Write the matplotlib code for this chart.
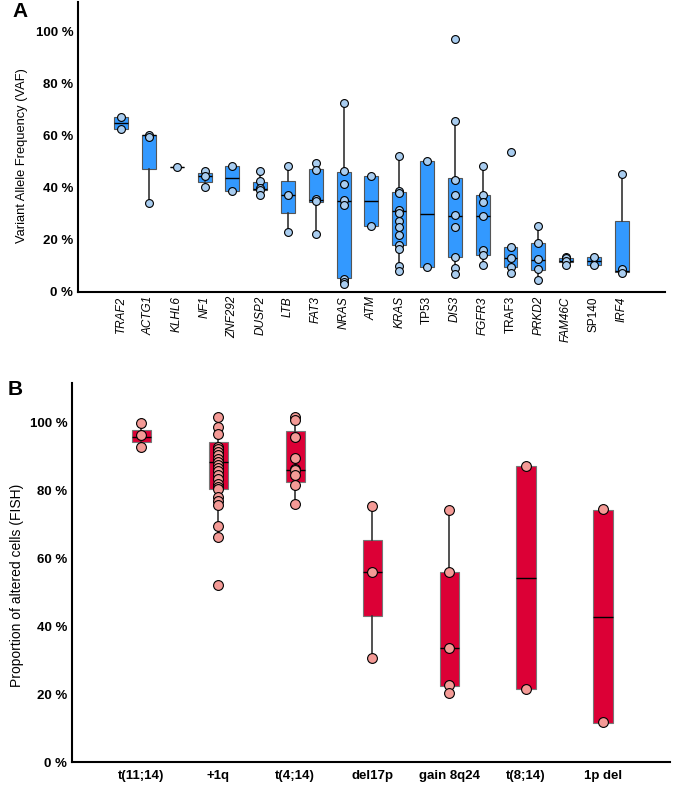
import matplotlib.pyplot as plt

plt.rcParams["font.family"] = ["Liberation Sans", "DejaVu Sans"]

# ---- panel A: variant allele frequency per gene ----
genes = ["TRAF2", "ACTG1", "KLHL6", "NF1", "ZNF292", "DUSP2", "LTB", "FAT3", "NRAS", "ATM",
         "KRAS", "TP53", "DIS3", "FGFR3", "TRAF3", "PRKD2", "FAM46C", "SP140", "IRF4"]
upright_genes = {"TP53", "TRAF3", "SP140"}

vaf_points = [
    [67.3, 62.8],
    [60.2, 59.5, 34.1],
    [48.0],
    [46.5, 44.6, 40.4],
    [48.5, 38.8],
    [46.4, 42.5, 39.8, 39.3, 37.2],
    [48.3, 37.4, 22.9],
    [49.5, 46.9, 35.9, 34.8, 22.2],
    [72.5, 46.4, 41.5, 35.5, 33.3, 5.0, 3.9, 3.1],
    [44.7, 25.4],
    [52.1, 38.8, 38.2, 31.5, 30.5, 27.3, 24.8, 22.0, 18.1, 16.7, 10.1, 8.2],
    [50.2, 9.6],
    [97.4, 65.9, 43.2, 37.3, 29.5, 24.9, 13.4, 9.1, 7.0],
    [48.4, 37.2, 34.4, 29.1, 16.2, 14.3, 10.5],
    [53.9, 17.2, 13.0, 9.7, 7.2],
    [25.5, 19.0, 12.6, 8.8, 4.6],
    [13.5, 12.9, 12.0, 10.5],
    [13.3, 10.5],
    [45.5, 8.7, 7.2],
]
vaf_q1 = [62.8, 47.4, 48.0, 42.3, 38.8, 39.3, 30.2, 34.6, 5.2, 25.4, 18.1, 9.6, 13.3, 14.2, 9.5, 8.6, 11.4, 10.5, 7.8]
vaf_med = [65.0, 60.2, 48.0, 44.4, 43.7, 39.6, 37.4, 35.5, 35.1, 35.1, 31.3, 29.9, 29.2, 29.2, 12.9, 12.3, 12.1, 11.9, 8.0]
vaf_q3 = [67.3, 60.2, 48.0, 45.6, 48.5, 42.4, 42.8, 47.4, 46.2, 44.7, 38.3, 50.2, 43.7, 37.4, 17.1, 19.0, 13.0, 13.3, 27.2]
vaf_whislo = [62.8, 34.1, 48.0, 40.4, 38.8, 37.2, 22.9, 22.2, 3.1, 25.4, 8.2, 9.6, 7.0, 10.5, 7.2, 4.6, 10.5, 10.5, 7.2]
vaf_whishi = [67.3, 60.2, 48.0, 46.5, 48.5, 46.4, 48.3, 49.5, 72.5, 44.7, 52.1, 50.2, 65.9, 48.4, 17.2, 25.5, 13.5, 13.3, 45.5]

# ---- panel B: proportion of altered cells (FISH) ----
alterations = ["t(11;14)", "+1q", "t(4;14)", "del17p", "gain 8q24", "t(8;14)", "1p del"]
fish_points = [
    [99.8, 96.1, 92.7],
    [101.4, 98.5, 96.6, 92.8, 92.1, 91.2, 90.2, 89.2, 88.4, 87.4, 86.5, 85.5, 84.5, 83.3,
     81.9, 80.9, 80.4, 77.9, 76.9, 75.5, 69.3, 66.2, 52.2],
    [101.6, 100.6, 95.6, 89.4, 86.3, 85.8, 84.3, 81.6, 76.0],
    [75.2, 55.8, 30.7],
    [74.1, 55.9, 33.6, 22.7, 20.4],
    [87.2, 21.6],
    [74.3, 11.8],
]
fish_q1 = [94.1, 80.4, 82.5, 43.1, 22.5, 21.5, 11.6]
fish_med = [95.7, 88.4, 86.0, 55.8, 33.6, 54.2, 42.7]
fish_q3 = [97.6, 94.1, 97.5, 65.3, 55.8, 87.0, 74.0]
fish_whislo = [92.7, 66.2, 76.0, 30.7, 20.4, 21.6, 11.8]
fish_whishi = [99.8, 101.4, 101.6, 75.2, 74.1, 87.2, 74.3]


def make_stats(q1, med, q3, lo, hi):
    return [dict(q1=a, med=b, q3=c, whislo=d, whishi=e, fliers=[])
            for a, b, c, d, e in zip(q1, med, q3, lo, hi)]


def draw_panel(ax, stats, points, width, box_color, edge_color, dot_color, dot_size):
    pos = list(range(len(stats)))
    ax.bxp(stats, positions=pos, widths=width, showcaps=False, patch_artist=True,
           boxprops=dict(facecolor=box_color, edgecolor=edge_color, linewidth=0.8),
           medianprops=dict(color="black", linewidth=1.0),
           whiskerprops=dict(color="#333333", linewidth=1.2), zorder=2)
    for i, vals in enumerate(points):
        ax.scatter([i] * len(vals), vals, s=dot_size, color=dot_color,
                   edgecolors="black", linewidths=0.8, zorder=3)
    ax.spines[["top", "right"]].set_visible(False)
    ax.spines[["left", "bottom"]].set_linewidth(1.5)
    ax.tick_params(axis="both", length=0)
    ax.set_yticks([0, 20, 40, 60, 80, 100])
    ax.set_yticklabels([f"{v} %" for v in [0, 20, 40, 60, 80, 100]], fontweight="bold", fontsize=9.5)


fig = plt.figure(figsize=(6.75, 7.86), dpi=100)

ax_a = fig.add_axes([0.1156, 0.6285, 0.8694, 0.3685])
draw_panel(ax_a, make_stats(vaf_q1, vaf_med, vaf_q3, vaf_whislo, vaf_whishi), vaf_points,
           0.5, "#3399FF", "#555555", "#A9CDF0", 32)
ax_a.set_xlim(-1.55, 19.55)
ax_a.set_ylim(0, 111.3)
ax_a.set_xticks(range(len(genes)))
ax_a.set_xticklabels(genes, rotation=90, fontsize=8.5)
for lbl in ax_a.get_xticklabels():
    lbl.set_style("normal" if lbl.get_text() in upright_genes else "italic")
ax_a.tick_params(axis="x", pad=3)
ax_a.set_ylabel("Variant Allele Frequency (VAF)", fontsize=9.3)
ax_a.yaxis.set_label_coords(-0.085, 0.47)
fig.text(0.018, 0.985, "A", fontsize=15, fontweight="bold", va="center")

ax_b = fig.add_axes([0.1067, 0.0305, 0.8859, 0.4822])
draw_panel(ax_b, make_stats(fish_q1, fish_med, fish_q3, fish_whislo, fish_whishi), fish_points,
           0.25, "#DC0036", "#777777", "#F49A96", 50)
ax_b.set_xlim(-0.9, 6.87)
ax_b.set_ylim(0, 111.5)
ax_b.set_xticks(range(len(alterations)))
ax_b.set_xticklabels(alterations, fontweight="bold", fontsize=9.5)
ax_b.tick_params(axis="x", pad=6)
ax_b.set_ylabel("Proportion of altered cells (FISH)", fontsize=10)
ax_b.yaxis.set_label_coords(-0.08, 0.467)
fig.text(0.012, 0.505, "B", fontsize=15, fontweight="bold", va="center")

fig.savefig("out.png", dpi=100)
